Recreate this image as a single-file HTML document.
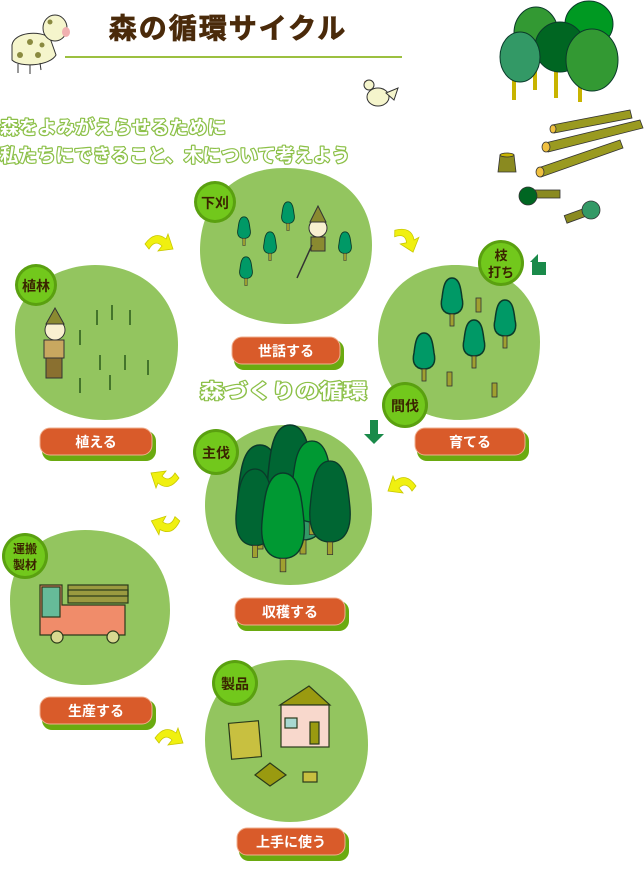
<!DOCTYPE html>
<html><head><meta charset="utf-8"><style>
body{margin:0;width:644px;height:870px;background:#fff;overflow:hidden;position:relative;font-family:"Liberation Sans","Noto Sans CJK JP",sans-serif}
svg{position:absolute;left:0;top:0}
.t{font-family:"Liberation Sans","Noto Sans CJK JP",sans-serif;font-weight:bold}
</style></head><body>
<svg width="644" height="870" viewBox="0 0 644 870">
<defs>
<g id="arr"><path d="M0,8 Q10,-6 21,3 L23,-2 L28,13 L13,15 L17,10 Q10,3 4,13 Z" fill="#f0f010" stroke="#c8c800" stroke-width="0.8"/></g>
<g id="ct"><path d="M0,-22 C8,-22 9,-10 10,-2 C12,6 10,14 0,14 C-10,14 -12,6 -10,-2 C-9,-10 -8,-22 0,-22Z" fill="#009966" stroke="#0a3a2a" stroke-width="1.5"/><rect x="-2" y="14" width="4" height="12" fill="#a0a030" stroke="#333" stroke-width="0.8"/></g>
<g id="big"><path d="M0,-60 C18,-60 20,-30 22,-10 C24,10 20,30 0,30 C-20,30 -24,10 -22,-10 C-20,-30 -18,-60 0,-60Z" stroke="#0a3a2a" stroke-width="1.5"/><rect x="-3" y="30" width="6" height="14" fill="#a0a030" stroke="#333" stroke-width="0.8"/></g>
</defs>

<!-- title -->
<text x="228" y="38" class="t" font-size="28" fill="#4a2a0a" stroke="#4a2a0a" stroke-width="0.8" text-anchor="middle" letter-spacing="2">森の循環サイクル</text>
<line x1="65" y1="57" x2="402" y2="57" stroke="#9cc040" stroke-width="2"/>

<!-- cow -->
<g>
<path d="M12,45 C14,32 40,30 50,38 L56,55 C50,66 20,68 12,60Z" fill="#f5f5cc" stroke="#333" stroke-width="1"/>
<ellipse cx="55" cy="28" rx="12" ry="13" fill="#f5f5cc" stroke="#333" stroke-width="1"/>
<ellipse cx="66" cy="32" rx="4" ry="5" fill="#f0b0b0"/>
<circle cx="30" cy="42" r="3" fill="#8a8a40"/><circle cx="20" cy="55" r="3" fill="#8a8a40"/><circle cx="38" cy="55" r="3" fill="#8a8a40"/><circle cx="50" cy="22" r="2.5" fill="#8a8a40"/><circle cx="42" cy="45" r="2.5" fill="#8a8a40"/>
<line x1="18" y1="64" x2="18" y2="73" stroke="#333"/><line x1="30" y1="65" x2="30" y2="74" stroke="#333"/><line x1="40" y1="63" x2="41" y2="70" stroke="#333"/>
</g>
<!-- bird -->
<g><ellipse cx="378" cy="97" rx="11" ry="9" fill="#f5f5cc" stroke="#333"/><path d="M386,93 L398,88 L394,100Z" fill="#f5f5cc" stroke="#333"/><path d="M364,81 L368,88 L373,84Z" fill="#f08040"/><circle cx="369" cy="85" r="5" fill="#f5f5cc" stroke="#333"/></g>
<!-- trees top right -->
<g>
<rect x="512" y="60" width="4" height="40" fill="#c8b400"/><rect x="533" y="60" width="4" height="30" fill="#c8b400"/><rect x="554" y="60" width="4" height="38" fill="#c8b400"/><rect x="578" y="70" width="4" height="32" fill="#c8b400"/>
<ellipse cx="536" cy="33" rx="22" ry="26" fill="#339933" stroke="#0a3a2a"/>
<ellipse cx="589" cy="24" rx="24" ry="23" fill="#009922" stroke="#0a3a2a"/>
<ellipse cx="560" cy="47" rx="25" ry="25" fill="#006622" stroke="#0a3a2a"/>
<ellipse cx="520" cy="57" rx="20" ry="25" fill="#339966" stroke="#0a3a2a"/>
<ellipse cx="592" cy="60" rx="26" ry="31" fill="#339933" stroke="#0a3a2a"/>
</g>
<!-- logs -->
<g stroke="#333" stroke-width="0.8">
<path d="M552,125 L630,110 L632,118 L554,133Z" fill="#9a9a20"/><ellipse cx="553" cy="129" rx="3" ry="4" fill="#f0c040"/>
<path d="M545,143 L640,120 L643,128 L548,152Z" fill="#9a9a20"/><ellipse cx="546" cy="147" rx="4" ry="5" fill="#f0c040"/>
<path d="M538,168 L620,140 L623,148 L541,177Z" fill="#9a9a20"/><ellipse cx="540" cy="172" rx="4" ry="5" fill="#f0c040"/>
<path d="M500,155 L514,155 L516,172 L498,172Z" fill="#8a8a20"/><ellipse cx="507" cy="155" rx="7" ry="2" fill="#c8b400"/>
<rect x="535" y="190" width="25" height="8" fill="#8a8a20"/><circle cx="528" cy="196" r="9" fill="#006622"/>
<rect x="565" y="212" width="25" height="8" fill="#8a8a20" transform="rotate(-20 575 216)"/><circle cx="591" cy="210" r="9" fill="#339966"/>
</g>
<!-- subtitle -->
<g class="t" fill="#fff" stroke="#8cc048" stroke-width="2.4" paint-order="stroke" stroke-linejoin="round">
<text x="0" y="134" font-size="18.5" textLength="226" lengthAdjust="spacingAndGlyphs">森をよみがえらせるために</text>
<text x="0" y="162" font-size="18.5" textLength="350" lengthAdjust="spacingAndGlyphs">私たちにできること、木について考えよう</text>
<text x="200" y="398" font-size="20" textLength="167" lengthAdjust="spacingAndGlyphs">森づくりの循環</text>
</g>

<!-- circles -->
<g fill="#93c55f">
<path d="M285,168 C340,168 372,200 372,245 C372,295 335,324 290,324 C240,324 200,300 200,250 C200,205 230,168 285,168Z"/>
<path d="M95,265 C140,265 178,295 178,345 C178,390 150,420 105,420 C50,420 15,385 15,330 C15,292 55,265 95,265Z"/>
<path d="M455,265 C500,265 540,290 540,342 C540,395 505,420 460,420 C410,420 378,385 378,340 C378,295 410,265 455,265Z"/>
<path d="M285,425 C335,425 372,455 372,510 C372,560 335,585 290,585 C240,585 205,550 205,505 C205,460 240,425 285,425Z"/>
<path d="M85,530 C135,530 170,560 170,610 C170,660 130,685 85,685 C35,685 10,650 10,600 C10,560 40,530 85,530Z"/>
<path d="M290,660 C340,660 368,695 368,745 C368,790 335,822 290,822 C245,822 205,790 205,740 C205,690 240,660 290,660Z"/>
</g>

<!-- circle 1 illustration -->
<g>
<use href="#ct" transform="translate(244,230) scale(0.6)"/><use href="#ct" transform="translate(270,245) scale(0.6)"/><use href="#ct" transform="translate(288,215) scale(0.6)"/><use href="#ct" transform="translate(246,270) scale(0.6)"/><use href="#ct" transform="translate(345,245) scale(0.6)"/>
<circle cx="318" cy="228" r="9" fill="#f8f0d0" stroke="#333"/><path d="M310,222 L318,206 L326,222Z" fill="#8a8a30" stroke="#333"/>
<rect x="311" y="237" width="14" height="14" fill="#8a8a30" stroke="#333"/>
<line x1="312" y1="245" x2="297" y2="278" stroke="#333" stroke-width="1.5"/>
</g>
<!-- circle 2 illustration -->
<g>
<circle cx="55" cy="330" r="10" fill="#f8f0d0" stroke="#333"/><path d="M46,324 L55,308 L64,324Z" fill="#8a8a30" stroke="#333"/>
<rect x="44" y="340" width="20" height="18" fill="#c8a860" stroke="#333"/><rect x="46" y="358" width="16" height="20" fill="#8a7030" stroke="#333"/>
<g stroke="#2a5a1a" stroke-width="1.5">
<path d="M97,310 v15"/><path d="M112,305 v15"/><path d="M130,310 v15"/><path d="M80,330 v15"/><path d="M100,355 v15"/><path d="M125,355 v15"/><path d="M148,360 v15"/><path d="M80,378 v15"/><path d="M110,375 v15"/>
</g>
</g>
<!-- circle 3 illustration -->
<g>
<use href="#ct" transform="translate(452,300)"/><use href="#ct" transform="translate(505,322)"/><use href="#ct" transform="translate(424,355)"/><use href="#ct" transform="translate(474,342)"/>
<rect x="476" y="298" width="5" height="14" fill="#a0a030" stroke="#333" stroke-width="0.8"/><rect x="447" y="372" width="5" height="14" fill="#a0a030" stroke="#333" stroke-width="0.8"/><rect x="492" y="383" width="5" height="14" fill="#a0a030" stroke="#333" stroke-width="0.8"/>
</g>
<!-- circle 4 trees -->
<g>
<use href="#big" fill="#006633" transform="translate(260,505)"/>
<use href="#big" fill="#339966" transform="translate(303,510)"/>
<use href="#big" fill="#006633" transform="translate(290,485)"/>
<use href="#big" fill="#009933" transform="translate(312,495) scale(0.9)"/>
<use href="#big" fill="#006633" transform="translate(330,515) scale(0.9)"/>
<use href="#big" fill="#006633" transform="translate(255,520) scale(0.85)"/>
<use href="#big" fill="#009933" transform="translate(283,530) scale(0.95)"/>
</g>
<!-- truck -->
<g stroke="#2a3a1a" stroke-width="1.2">
<rect x="68" y="585" width="60" height="18" fill="#9a9a40"/><rect x="68" y="590" width="60" height="6" fill="none"/>
<path d="M40,585 L62,585 L62,605 L125,605 L125,635 L40,635Z" fill="#f08c6a"/>
<rect x="42" y="587" width="18" height="30" fill="#66bb99"/>
<circle cx="57" cy="637" r="6" fill="#d8d890"/><circle cx="113" cy="637" r="6" fill="#d8d890"/>
</g>
<!-- products -->
<g stroke="#2a3a1a" stroke-width="1.2">
<path d="M280,705 L309,686 L330,705Z" fill="#9a9a10"/><rect x="281" y="705" width="48" height="42" fill="#f8d8cc"/><rect x="285" y="718" width="12" height="10" fill="#a8d8d0"/><rect x="310" y="722" width="9" height="22" fill="#9a9a10"/>
<rect x="230" y="722" width="30" height="36" fill="#c8c040" transform="rotate(-5 245 740)"/>
<path d="M255,775 L270,763 L286,775 L270,786Z" fill="#9a9a10"/>
<rect x="303" y="772" width="14" height="10" fill="#c8c040"/>
</g>

<!-- arrows -->
<use href="#arr" transform="translate(145,236)"/>
<use href="#arr" transform="translate(392,230) rotate(40 12 8)"/>
<use href="#arr" transform="translate(390,478) scale(-1,1) translate(-26,0)"/>
<use href="#arr" transform="translate(155,470) rotate(180 12 8)"/>
<use href="#arr" transform="translate(156,515) rotate(170 12 8)"/>
<use href="#arr" transform="translate(155,730)"/>
<path d="M538,262 L546,262 L546,275 L532,275 L532,262 L530,262 L538,254Z" fill="#1a8a4a"/>
<path d="M370,420 L378,420 L378,434 L384,434 L374,444 L364,434 L370,434Z" fill="#1a8a4a"/>

<!-- badges -->
<g>
<g transform="translate(215,202)"><circle r="21" fill="#5aa010"/><circle r="18" fill="#72c81c"/><text y="6" text-anchor="middle" class="t" font-size="14" fill="#3a2400">下刈</text></g>
<g transform="translate(36,285)"><circle r="21" fill="#5aa010"/><circle r="18" fill="#72c81c"/><text y="6" text-anchor="middle" class="t" font-size="14" fill="#3a2400">植林</text></g>
<g transform="translate(501,263)"><circle r="23" fill="#5aa010"/><circle r="20" fill="#72c81c"/><text y="-3" text-anchor="middle" class="t" font-size="13" fill="#3a2400">枝</text><text y="14" text-anchor="middle" class="t" font-size="13" fill="#3a2400">打ち</text></g>
<g transform="translate(405,405)"><circle r="23" fill="#5aa010"/><circle r="20" fill="#72c81c"/><text y="6" text-anchor="middle" class="t" font-size="14" fill="#3a2400">間伐</text></g>
<g transform="translate(216,452)"><circle r="23" fill="#5aa010"/><circle r="20" fill="#72c81c"/><text y="6" text-anchor="middle" class="t" font-size="14" fill="#3a2400">主伐</text></g>
<g transform="translate(25,556)"><circle r="23" fill="#5aa010"/><circle r="20" fill="#72c81c"/><text y="-3" text-anchor="middle" class="t" font-size="12" fill="#3a2400">運搬</text><text y="13" text-anchor="middle" class="t" font-size="12" fill="#3a2400">製材</text></g>
<g transform="translate(235,683)"><circle r="23" fill="#5aa010"/><circle r="20" fill="#72c81c"/><text y="6" text-anchor="middle" class="t" font-size="14" fill="#3a2400">製品</text></g>
</g>

<!-- tags -->
<g class="t" font-size="14" fill="#fff" text-anchor="middle">
<g transform="translate(232,337)"><rect x="2" y="3" width="110" height="30" rx="10" fill="#6aaa10"/><rect width="108" height="27" rx="10" fill="#d95b2a" stroke="#f0b090"/><text x="54" y="19">世話する</text></g>
<g transform="translate(40,428)"><rect x="2" y="3" width="114" height="30" rx="10" fill="#6aaa10"/><rect width="112" height="27" rx="10" fill="#d95b2a" stroke="#f0b090"/><text x="56" y="19">植える</text></g>
<g transform="translate(415,428)"><rect x="2" y="3" width="112" height="30" rx="10" fill="#6aaa10"/><rect width="110" height="27" rx="10" fill="#d95b2a" stroke="#f0b090"/><text x="55" y="19">育てる</text></g>
<g transform="translate(235,598)"><rect x="2" y="3" width="112" height="30" rx="10" fill="#6aaa10"/><rect width="110" height="27" rx="10" fill="#d95b2a" stroke="#f0b090"/><text x="55" y="19">収穫する</text></g>
<g transform="translate(40,697)"><rect x="2" y="3" width="114" height="30" rx="10" fill="#6aaa10"/><rect width="112" height="27" rx="10" fill="#d95b2a" stroke="#f0b090"/><text x="56" y="19">生産する</text></g>
<g transform="translate(237,828)"><rect x="2" y="3" width="110" height="30" rx="10" fill="#6aaa10"/><rect width="108" height="27" rx="10" fill="#d95b2a" stroke="#f0b090"/><text x="54" y="19">上手に使う</text></g>
</g>
</svg>
</body></html>
